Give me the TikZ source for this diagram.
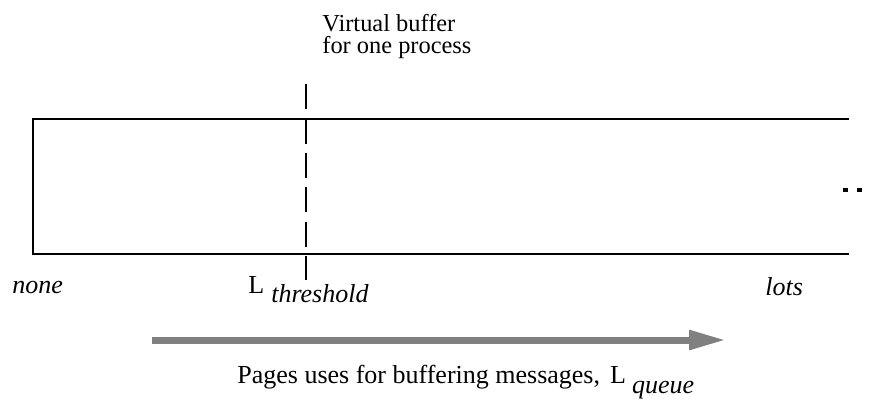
\documentclass[tikz,border=0pt]{standalone}
\usepackage{fontspec}
\setmainfont{Liberation Serif}
\usetikzlibrary{arrows.meta}
\begin{document}
\begin{tikzpicture}[x=0.5pt,y=-0.5pt,every node/.style={inner sep=0pt,font=\fontsize{13}{15}\selectfont}]
\useasboundingbox (0,0) rectangle (871,403);
\draw[line width=1pt] (849,119) -- (33,119) -- (33,254) -- (849,254);
\draw[line width=1pt,dash pattern=on 12.6pt off 4.6pt] (305.5,84) -- (305.5,280);
\foreach \x in {843,857} \fill (\x,187.5) rectangle +(4.5,4.5);
\node[anchor=base west,align=left,font=\fontsize{12.2}{11.2}\selectfont] (vbuf) at (322,53.5) {Virtual buffer\\for one process};
\node[anchor=base west] (none) at (12,293) {\textit{none}};
\node[anchor=base west] (lthr) at (248,293) {L\hspace{3.5pt}\raisebox{-4.5pt}{\textit{threshold}}};
\node[anchor=base west] (lots) at (765,295) {\textit{lots}};
\node[anchor=base west] (lq) at (237,383) {Pages uses for buffering messages,\hspace{5pt}L\hspace{3pt}\raisebox{-5pt}{\textit{queue}}};
\coordinate (from) at (152,340);
\coordinate (to) at (726,340);
\draw[gray,line width=3.5pt,-{Triangle[length=18.5pt,width=9.25pt]}] (from) -- (to);
\end{tikzpicture}
\end{document}
